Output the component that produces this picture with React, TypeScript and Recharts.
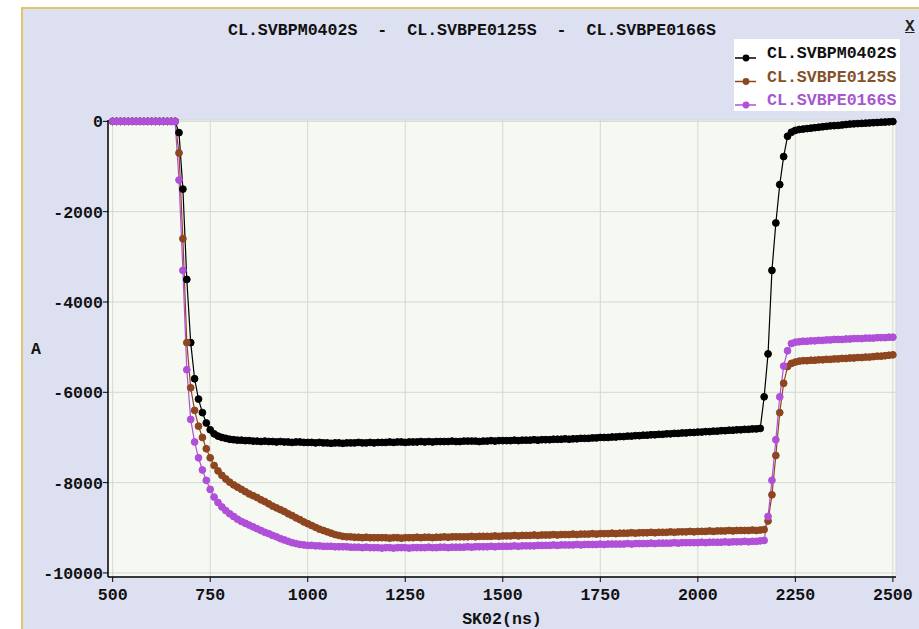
import { LineChart, Line, XAxis, YAxis, CartesianGrid, Legend } from "recharts";

// sample times (ns), one every 10 ns
const times = [
  500, 510, 520, 530, 540, 550, 560, 570, 580, 590,
  600, 610, 620, 630, 640, 650, 660, 670, 680, 690,
  700, 710, 720, 730, 740, 750, 760, 770, 780, 790,
  800, 810, 820, 830, 840, 850, 860, 870, 880, 890,
  900, 910, 920, 930, 940, 950, 960, 970, 980, 990,
  1000, 1010, 1020, 1030, 1040, 1050, 1060, 1070, 1080, 1090,
  1100, 1110, 1120, 1130, 1140, 1150, 1160, 1170, 1180, 1190,
  1200, 1210, 1220, 1230, 1240, 1250, 1260, 1270, 1280, 1290,
  1300, 1310, 1320, 1330, 1340, 1350, 1360, 1370, 1380, 1390,
  1400, 1410, 1420, 1430, 1440, 1450, 1460, 1470, 1480, 1490,
  1500, 1510, 1520, 1530, 1540, 1550, 1560, 1570, 1580, 1590,
  1600, 1610, 1620, 1630, 1640, 1650, 1660, 1670, 1680, 1690,
  1700, 1710, 1720, 1730, 1740, 1750, 1760, 1770, 1780, 1790,
  1800, 1810, 1820, 1830, 1840, 1850, 1860, 1870, 1880, 1890,
  1900, 1910, 1920, 1930, 1940, 1950, 1960, 1970, 1980, 1990,
  2000, 2010, 2020, 2030, 2040, 2050, 2060, 2070, 2080, 2090,
  2100, 2110, 2120, 2130, 2140, 2150, 2160, 2170, 2180, 2190,
  2200, 2210, 2220, 2230, 2240, 2250, 2260, 2270, 2280, 2290,
  2300, 2310, 2320, 2330, 2340, 2350, 2360, 2370, 2380, 2390,
  2400, 2410, 2420, 2430, 2440, 2450, 2460, 2470, 2480, 2490,
  2500,
];

// current (A)
const svbpm0402s = [
  0, 0, 0, 0, 0, 0, 0, 0, 0, 0,
  0, 0, 0, 0, 0, 0, 0, -250, -1500, -3500,
  -4900, -5700, -6150, -6450, -6680, -6830, -6920, -6970, -7000, -7020,
  -7040, -7050, -7060, -7060, -7070, -7070, -7080, -7080, -7090, -7080,
  -7090, -7090, -7100, -7090, -7100, -7100, -7110, -7100, -7100, -7110,
  -7110, -7110, -7120, -7110, -7120, -7120, -7130, -7120, -7120, -7130,
  -7120, -7120, -7120, -7110, -7120, -7120, -7110, -7120, -7110, -7110,
  -7110, -7100, -7110, -7100, -7100, -7110, -7100, -7100, -7100, -7090,
  -7100, -7090, -7100, -7090, -7090, -7090, -7090, -7080, -7090, -7090,
  -7080, -7080, -7080, -7080, -7090, -7080, -7080, -7070, -7080, -7070,
  -7070, -7070, -7070, -7060, -7070, -7060, -7060, -7060, -7050, -7060,
  -7050, -7050, -7050, -7040, -7040, -7040, -7030, -7040, -7030, -7030,
  -7020, -7020, -7020, -7010, -7010, -7000, -7000, -7000, -6990, -6990,
  -6980, -6980, -6970, -6970, -6960, -6960, -6950, -6950, -6940, -6940,
  -6930, -6930, -6920, -6920, -6910, -6910, -6900, -6900, -6890, -6890,
  -6880, -6880, -6870, -6870, -6860, -6860, -6850, -6850, -6840, -6840,
  -6830, -6830, -6820, -6820, -6810, -6810, -6800, -6100, -5150, -3300,
  -2250, -1400, -780, -330, -240, -200, -180, -170, -160, -150,
  -140, -130, -120, -110, -100, -95, -90, -80, -70, -60,
  -55, -50, -45, -40, -35, -30, -25, -20, -15, -10,
  -5,
];

const svbpe0125s = [
  0, 0, 0, 0, 0, 0, 0, 0, 0, 0,
  0, 0, 0, 0, 0, 0, 0, -700, -2600, -4900,
  -5900, -6400, -6750, -7000, -7250, -7450, -7620, -7740, -7840, -7920,
  -7990, -8050, -8100, -8150, -8200, -8250, -8290, -8330, -8380, -8420,
  -8470, -8520, -8560, -8600, -8640, -8690, -8730, -8780, -8820, -8870,
  -8910, -8950, -8990, -9030, -9060, -9090, -9120, -9150, -9170, -9190,
  -9200, -9200, -9210, -9210, -9220, -9210, -9220, -9220, -9220, -9220,
  -9220, -9230, -9220, -9220, -9230, -9220, -9220, -9220, -9210, -9220,
  -9210, -9210, -9220, -9210, -9210, -9200, -9210, -9200, -9200, -9200,
  -9200, -9200, -9190, -9200, -9190, -9190, -9190, -9190, -9180, -9190,
  -9180, -9180, -9180, -9170, -9180, -9170, -9170, -9170, -9160, -9170,
  -9160, -9160, -9160, -9150, -9160, -9150, -9150, -9150, -9140, -9150,
  -9140, -9140, -9140, -9130, -9140, -9130, -9130, -9130, -9120, -9130,
  -9120, -9120, -9120, -9110, -9120, -9110, -9110, -9110, -9100, -9110,
  -9100, -9100, -9100, -9090, -9100, -9090, -9090, -9090, -9080, -9090,
  -9080, -9080, -9080, -9070, -9080, -9070, -9070, -9070, -9060, -9070,
  -9060, -9060, -9060, -9060, -9050, -9060, -9050, -9040, -8850, -8270,
  -7400, -6450, -5800, -5430, -5360, -5330, -5310, -5300, -5300, -5290,
  -5290, -5280, -5280, -5270, -5270, -5260, -5260, -5250, -5250, -5240,
  -5240, -5230, -5230, -5220, -5220, -5210, -5200, -5200, -5190, -5180,
  -5170,
];

const svbpe0166s = [
  0, 0, 0, 0, 0, 0, 0, 0, 0, 0,
  0, 0, 0, 0, 0, 0, 0, -1300, -3300, -5500,
  -6600, -7100, -7450, -7720, -7950, -8150, -8320, -8440, -8540, -8620,
  -8690, -8750, -8810, -8860, -8900, -8940, -8980, -9020, -9060, -9100,
  -9130, -9170, -9200, -9240, -9270, -9300, -9330, -9350, -9370, -9380,
  -9390, -9390, -9400, -9400, -9410, -9410, -9410, -9420, -9420, -9420,
  -9420, -9430, -9430, -9430, -9440, -9430, -9440, -9440, -9440, -9450,
  -9440, -9440, -9450, -9440, -9440, -9440, -9450, -9440, -9440, -9440,
  -9440, -9430, -9440, -9440, -9430, -9430, -9440, -9430, -9430, -9430,
  -9430, -9420, -9430, -9420, -9420, -9420, -9420, -9410, -9420, -9410,
  -9410, -9410, -9410, -9400, -9410, -9400, -9400, -9400, -9400, -9390,
  -9390, -9390, -9390, -9380, -9390, -9380, -9380, -9380, -9380, -9370,
  -9380, -9370, -9370, -9370, -9370, -9360, -9370, -9360, -9360, -9360,
  -9360, -9360, -9350, -9360, -9350, -9350, -9350, -9350, -9340, -9350,
  -9340, -9340, -9340, -9340, -9330, -9340, -9330, -9330, -9330, -9330,
  -9330, -9320, -9330, -9320, -9320, -9320, -9320, -9310, -9320, -9310,
  -9310, -9310, -9300, -9310, -9300, -9300, -9290, -9280, -8750, -7950,
  -7050, -6100, -5420, -5080, -4920, -4890, -4880, -4870, -4870, -4860,
  -4860, -4850, -4850, -4840, -4840, -4830, -4830, -4830, -4820, -4820,
  -4810, -4810, -4810, -4800, -4800, -4800, -4790, -4790, -4790, -4780,
  -4780,
];

const seriesNames = ["CL.SVBPM0402S", "CL.SVBPE0125S", "CL.SVBPE0166S"];
const seriesColors = ["#000000", "#8e4620", "#b050d8"];
const legendTextColors = ["#111111", "#83522c", "#a658cf"];

const xTicks = [500, 750, 1000, 1250, 1500, 1750, 2000, 2250, 2500];
const yTicks = [0, -2000, -4000, -6000, -8000, -10000];

const data = times.map((t, i) => ({
  t,
  m0402: svbpm0402s[i],
  e0125: svbpe0125s[i],
  e0166: svbpe0166s[i],
}));

const FONT = '"Liberation Mono", "DejaVu Sans Mono", monospace';
const X_DOMAIN = [488, 2508];
const Y_DOMAIN = [-10090, 30];

const tickStyle = { fill: "#111", fontSize: 16.6, fontWeight: 700, fontFamily: FONT };

function SeriesLegend({ payload }: any) {
  // keep the legend in series order
  const items = [...(payload || [])].sort(
    (a: any, b: any) => seriesNames.indexOf(a.value) - seriesNames.indexOf(b.value)
  );
  return (
    <svg width={166} height={72} style={{ display: "block" }}>
      <rect x={0} y={0} width={166} height={72} fill="#ffffff" />
      {items.map((entry: any, i: number) => {
        const y = 19 + i * 23.5;
        const idx = seriesNames.indexOf(entry.value);
        return (
          <g key={entry.value}>
            <line x1={1} x2={22} y1={y} y2={y} stroke={entry.color} strokeWidth={1.5} />
            <circle cx={12} cy={y} r={3.4} fill={entry.color} />
            <text
              x={33}
              y={y}
              fill={legendTextColors[idx]}
              fontSize={16.6}
              fontWeight={700}
              fontFamily={FONT}
            >
              {entry.value}
            </text>
          </g>
        );
      })}
    </svg>
  );
}

export default function App() {
  const keys = ["m0402", "e0125", "e0166"];
  return (
    <div
      style={{
        position: "absolute",
        left: 0,
        top: 0,
        width: 919,
        height: 629,
        background: "#ffffff",
        overflow: "hidden",
        fontFamily: FONT,
      }}
    >
      <div
        style={{
          position: "absolute",
          left: 21,
          top: 7,
          right: 0,
          bottom: 0,
          background: "#dde0f1",
          borderLeft: "2px solid #e3c46e",
          borderTop: "2px solid #e3c46e",
        }}
      />
      <div
        style={{
          position: "absolute",
          left: 228,
          top: 21,
          lineHeight: "20px",
          fontSize: 16.6,
          fontWeight: 700,
          color: "#111",
          whiteSpace: "pre",
        }}
      >
        {seriesNames.join("  -  ")}
      </div>
      <div
        style={{
          position: "absolute",
          left: 905,
          top: 17,
          lineHeight: "20px",
          fontSize: 16,
          fontWeight: 700,
          color: "#222",
          textDecoration: "underline",
        }}
      >
        X
      </div>
      <div style={{ position: "absolute", left: 0, top: 0 }}>
        <LineChart
          width={919}
          height={629}
          data={data}
          margin={{ top: 120, right: 23, bottom: 0, left: 0 }}
        >
          <CartesianGrid stroke="#d4d8d4" fill="#f5f9f2" fillOpacity={1} />
          <XAxis
            dataKey="t"
            type="number"
            domain={X_DOMAIN}
            ticks={xTicks}
            interval={0}
            height={52}
            tickSize={5}
            tickMargin={6}
            axisLine={{ stroke: "#000", strokeWidth: 1.5 }}
            tickLine={{ stroke: "#000" }}
            tick={tickStyle}
            label={{
              value: "SK02(ns)",
              position: "insideBottom",
              offset: 5,
              style: { ...tickStyle, textAnchor: "middle" },
            }}
          />
          <YAxis
            type="number"
            domain={Y_DOMAIN}
            ticks={yTicks}
            interval={0}
            width={108}
            tickSize={5}
            tickMargin={0}
            axisLine={{ stroke: "#000", strokeWidth: 1.5 }}
            tickLine={{ stroke: "#000" }}
            tick={tickStyle}
            label={{
              value: "A",
              position: "insideLeft",
              offset: 31,
              style: tickStyle,
            }}
          />
          {/* frame on the top and right side of the plot */}
          <XAxis
            xAxisId="top"
            orientation="top"
            type="number"
            domain={X_DOMAIN}
            height={0}
            tick={false}
            tickLine={false}
            axisLine={{ stroke: "#000", strokeWidth: 1.5 }}
          />
          <YAxis
            yAxisId="right"
            orientation="right"
            type="number"
            domain={Y_DOMAIN}
            width={0}
            tick={false}
            tickLine={false}
            axisLine={{ stroke: "#000", strokeWidth: 1.5 }}
          />
          <Legend
            layout="vertical"
            align="center"
            verticalAlign="middle"
            wrapperStyle={{ left: 734, top: 39, width: 166, height: 72 }}
            content={(props: any) => <SeriesLegend {...props} />}
          />
          {keys.map((k, i) => (
            <Line
              key={k}
              dataKey={k}
              name={seriesNames[i]}
              type="linear"
              stroke={seriesColors[i]}
              strokeWidth={1.2}
              dot={{ r: 3.4, fill: seriesColors[i], stroke: seriesColors[i], strokeWidth: 1 }}
              activeDot={false}
              isAnimationActive={false}
            />
          ))}
        </LineChart>
      </div>
    </div>
  );
}
